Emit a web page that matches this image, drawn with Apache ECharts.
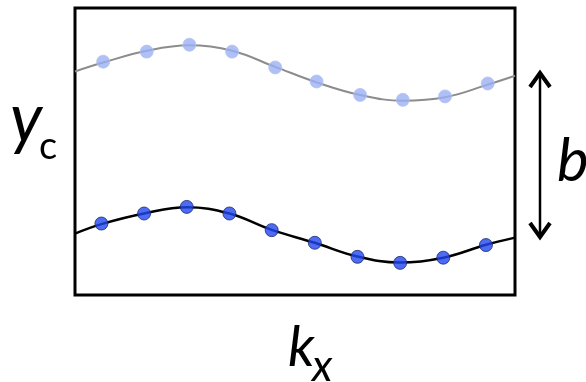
<!DOCTYPE html>
<html>
<head>
<meta charset="utf-8">
<script src="https://cdn.jsdelivr.net/npm/echarts@6/dist/echarts.min.js"></script>
<style>
  html, body { margin: 0; padding: 0; background: #fff; }
  #chart { width: 586px; height: 382px; }
</style>
</head>
<body>
<div id="chart"></div>
<script>
// positions along k_x (0..1 across the box) and y_c (0..100 bottom to top)
const upperDotX = [0.064, 0.163, 0.260, 0.357, 0.455, 0.549, 0.648, 0.745, 0.841, 0.938];
const upperDotY = [81.3, 84.8, 87.2, 84.8, 79.3, 74.4, 69.7, 68.0, 69.2, 73.7];
const lowerDotX = [0.060, 0.157, 0.254, 0.351, 0.447, 0.545, 0.642, 0.739, 0.837, 0.934];
const lowerDotY = [24.9, 28.4, 30.7, 28.4, 22.6, 18.2, 13.3, 11.2, 13.0, 17.4];

const upperLineX = [0, 0.064, 0.163, 0.260, 0.357, 0.455, 0.549, 0.648, 0.745, 0.841, 0.938, 1];
const upperLineY = [77.9, 81.0, 85.1, 87.0, 85.1, 79.5, 74.1, 69.7, 67.7, 68.9, 73.3, 76.4];
const lowerLineX = [0, 0.060, 0.157, 0.254, 0.351, 0.447, 0.545, 0.642, 0.739, 0.837, 0.934, 1];
const lowerLineY = [21.4, 24.7, 28.4, 30.6, 28.4, 22.7, 18.2, 13.4, 11.3, 13.0, 17.5, 20.0];

const zip = (xs, ys) => xs.map((x, i) => [x, ys[i]]);

const chart = echarts.init(document.getElementById("chart"));
chart.setOption({
  animation: false,
  grid: {
    left: 75,
    right: 71,
    top: 8,
    bottom: 87,
    show: true,
    borderColor: "#000",
    borderWidth: 3,
  },
  xAxis: {
    type: "value",
    min: 0,
    max: 1,
    axisLine: { show: false },
    axisTick: { show: false },
    axisLabel: { show: false },
    splitLine: { show: false },
  },
  yAxis: {
    type: "value",
    min: 0,
    max: 100,
    axisLine: { show: false },
    axisTick: { show: false },
    axisLabel: { show: false },
    splitLine: { show: false },
  },
  series: [
    {
      type: "line",
      data: zip(upperLineX, upperLineY),
      smooth: 0.4,
      showSymbol: false,
      lineStyle: { color: "#8c8c8c", width: 2 },
      z: 2,
    },
    {
      type: "line",
      data: zip(lowerLineX, lowerLineY),
      smooth: 0.4,
      showSymbol: false,
      lineStyle: { color: "#000", width: 2.5 },
      z: 2,
    },
    {
      type: "scatter",
      data: zip(upperDotX, upperDotY),
      symbolSize: 13,
      itemStyle: { color: "#9bb0f4", borderColor: "#b4c2f0", borderWidth: 1 },
      z: 3,
    },
    {
      type: "scatter",
      data: zip(lowerDotX, lowerDotY),
      symbolSize: 13,
      itemStyle: { color: "#2046f0", borderColor: "#1c2a6e", borderWidth: 1 },
      z: 3,
    },
  ],
  graphic: [
    // labels
    { type: "text", x: 10, y: 120, style: { text: "y", font: "italic 67px Lato", fill: "#000", verticalAlign: "middle" } },
    { type: "text", x: 39, y: 147, style: { text: "c", font: "38px Lato", fill: "#000", verticalAlign: "middle" } },
    { type: "text", x: 288, y: 348, style: { text: "k", font: "italic 56px Lato", fill: "#000", verticalAlign: "middle" } },
    { type: "text", x: 312, y: 367, style: { text: "x", font: "italic 44px Lato", fill: "#000", verticalAlign: "middle" } },
    { type: "text", x: 557, y: 162, style: { text: "b", font: "italic 60px Lato", fill: "#000", verticalAlign: "middle" } },
    // double arrow for b
    { type: "line", shape: { x1: 540, y1: 75, x2: 540, y2: 235 }, style: { stroke: "#000", lineWidth: 2.5 } },
    { type: "polyline", shape: { points: [[530, 87], [540, 73], [550, 87]] }, style: { stroke: "#000", lineWidth: 4, fill: null } },
    { type: "polyline", shape: { points: [[530, 223], [540, 237], [550, 223]] }, style: { stroke: "#000", lineWidth: 4, fill: null } },
  ],
});
window.addEventListener("resize", () => {
  chart.resize();
});
</script>
</body>
</html>
